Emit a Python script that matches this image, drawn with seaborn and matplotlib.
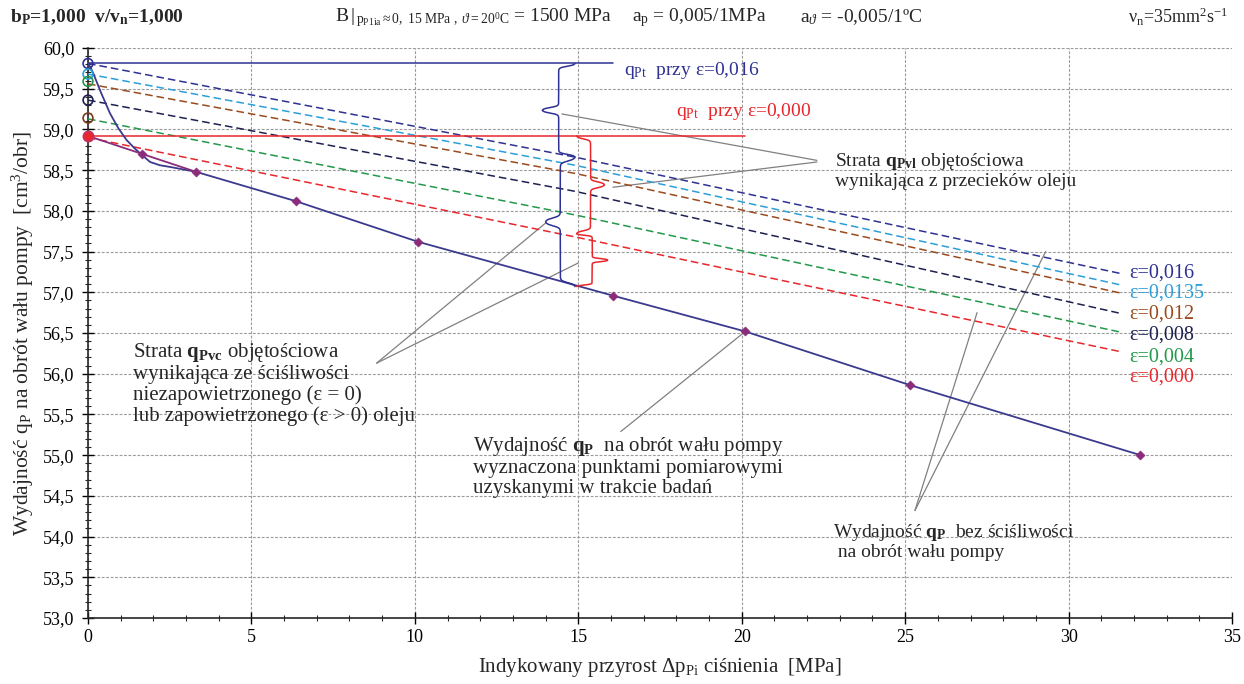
import numpy as np
import pandas as pd
import matplotlib
matplotlib.use("Agg")
import matplotlib.pyplot as plt
import seaborn as sns
from matplotlib.ticker import MultipleLocator, FuncFormatter

# ---------------- data ----------------
eps_labels = ['ε=0,016', 'ε=0,0135', 'ε=0,012', 'ε=0,008', 'ε=0,004', 'ε=0,000']
eps_colors = ['#2E3192', '#2A9FDA', '#9A4A1E', '#1D2050', '#22994A', '#E8262B']
eps_x = [0.0, 14.9, 31.6]
eps_016 = [59.81, 58.66, 57.23]
eps_0135 = [59.68, 58.56, 57.09]
eps_012 = [59.56, 58.46, 56.99]
eps_008 = [59.36, 58.24, 56.74]
eps_004 = [59.13, 57.95, 56.51]
eps_000 = [58.90, 57.68, 56.27]
eps_values = [eps_016, eps_0135, eps_012, eps_008, eps_004, eps_000]

start_circle_y = [59.81, 59.68, 59.59, 59.36, 59.14, 58.92]
start_circle_colors = ['#2E3192', '#2A9FDA', '#22994A', '#1D2050', '#7A3A1E', '#E8262B']

meas_x = [1.65, 3.3, 6.35, 10.1, 16.05, 20.1, 25.15, 32.2]
meas_y = [58.70, 58.48, 58.12, 57.62, 56.96, 56.52, 55.86, 55.00]

purple_x = [0.0, 1.65, 3.3]
purple_y = [58.92, 58.70, 58.48]

curve_x = [0.0, 0.08, 0.16, 0.4, 0.67, 0.92, 1.18, 1.42, 1.64, 1.9, 2.2, 2.5, 2.9, 3.3]
curve_y = [59.81, 59.76, 59.69, 59.45, 59.20, 59.02, 58.87, 58.77, 58.69, 58.60, 58.56, 58.54, 58.51, 58.48]

qpt016_x = [0.0, 16.05]
qpt016_y = [59.81, 59.81]
qpt000_x = [0.0, 20.1]
qpt000_y = [58.92, 58.92]

x_ticks = [0, 5, 10, 15, 20, 25, 30, 35]

# ---------------- style ----------------
sns.set_style("ticks")
plt.rcParams['font.family'] = ['Liberation Serif', 'DejaVu Serif']
plt.rcParams['mathtext.fontset'] = 'custom'
plt.rcParams['mathtext.rm'] = 'Liberation Serif'
plt.rcParams['mathtext.it'] = 'Liberation Serif:italic'
plt.rcParams['mathtext.bf'] = 'Liberation Serif:bold'

NAVY = '#2E3192'
RED = '#E8262B'
PURPLE = '#8B2C7A'
GRAY = '#808080'

fig = plt.figure(figsize=(12.44, 6.84), dpi=100)
ax = fig.add_axes([88/1244, 1-618/684, (1232-88)/1244, (618-48)/684])

# dashed epsilon lines
rows = []
for lab, vals in zip(eps_labels, eps_values):
    for xv, yv in zip(eps_x, vals):
        rows.append({'x': xv, 'y': yv, 'eps': lab})
df_eps = pd.DataFrame(rows)
sns.lineplot(data=df_eps, x='x', y='y', hue='eps', style='eps',
             palette=dict(zip(eps_labels, eps_colors)),
             dashes={l: (5, 2.6) for l in eps_labels},
             hue_order=eps_labels, legend=False, estimator=None, sort=False,
             lw=1.1, ax=ax, zorder=3)

# horizontal q_Pt lines
sns.lineplot(x=qpt016_x, y=qpt016_y, color=NAVY, lw=1.1, ax=ax, estimator=None, zorder=3)
sns.lineplot(x=qpt000_x, y=qpt000_y, color=RED, lw=1.1, ax=ax, estimator=None, zorder=3)

# measured line (navy curve + straight through points)
full_x = curve_x + meas_x[2:]
full_y = curve_y + meas_y[2:]
ax.plot(full_x, full_y, color='#3B3A8E', lw=1.3, zorder=4)
ax.plot(purple_x, purple_y, color=PURPLE, lw=1.3, zorder=4)

# start circles
ax.scatter([0]*len(start_circle_y[:-1]), start_circle_y[:-1], s=50, facecolors='none',
           edgecolors=start_circle_colors[:-1], linewidths=1.2, zorder=6, clip_on=False)
ax.scatter([0], [start_circle_y[-1]], s=55, facecolors='#E8262B', edgecolors='#C0306A',
           linewidths=1.2, zorder=6, clip_on=False)

# measurement diamonds
df_m = pd.DataFrame({'x': meas_x, 'y': meas_y})
sns.scatterplot(data=df_m, x='x', y='y', marker='D', s=22, color=PURPLE,
                edgecolor=PURPLE, ax=ax, zorder=7)


# curly braces
def brace(ax, x_end, y_top, y_bot, width, color, n=300, k=60):
    t = np.linspace(0, 1, n)
    s = lambda tt, c: 1/(1+np.exp(-k*(tt-c)))
    g = 0.5*s(t, 0.06) + 0.5*s(t, 0.94)
    f = (g-g[0])/(g[-1]-g[0])
    ym = (y_top+y_bot)/2
    y1 = y_top + (ym-y_top)*t
    y2 = ym + (y_bot-ym)*t
    x1 = x_end + width*f
    x2 = x_end + width*f[::-1]
    ax.plot(np.r_[x1, x2], np.r_[y1, y2], color=color, lw=1.1, zorder=5)

braces = [(14.9, 59.81, 58.66, -1.0, NAVY), (14.9, 58.66, 57.07, -0.9, NAVY),
          (14.95, 58.92, 57.72, 0.85, RED), (14.95, 57.72, 57.07, 0.95, RED)]
for b in braces:
    brace(ax, *b)

# leader lines
leaders = [((22.3, 58.62), (14.5, 59.19)), ((22.3, 58.60), (16.06, 58.29)),
           ((8.83, 56.13), (14.0, 57.85)), ((8.83, 56.13), (15.0, 57.36)),
           ((16.3, 55.29), (20.05, 56.50)),
           ((25.3, 54.32), (27.2, 56.75)), ((25.3, 54.32), (29.3, 57.50))]
for (a, b) in leaders:
    ax.plot([a[0], b[0]], [a[1], b[1]], color=GRAY, lw=0.9, zorder=2)

# axes formatting
ax.set_xlim(0, 35)
ax.set_ylim(53, 60)
ax.set_xticks(x_ticks)
ax.xaxis.set_minor_locator(MultipleLocator(1))
ax.yaxis.set_major_locator(MultipleLocator(0.5))
ax.yaxis.set_minor_locator(MultipleLocator(0.1))
ax.yaxis.set_major_formatter(FuncFormatter(lambda v, p: f"{v:.1f}".replace('.', ',')))
ax.tick_params(axis='both', which='major', direction='inout', length=8, width=1.0,
               labelsize=13, colors='black')
ax.tick_params(axis='x', which='major', pad=4)
ax.tick_params(axis='y', which='major', pad=6)
ax.tick_params(axis='both', which='minor', direction='inout', length=5, width=0.8)
ax.grid(True, which='major', color='#9A9A9A', ls=(0, (2.5, 1.5)), lw=0.8)
for sp in ['top', 'right']:
    ax.spines[sp].set_visible(False)
ax.spines['left'].set_linewidth(1.2)
ax.spines['bottom'].set_linewidth(1.2)
ax.set_xlabel(r"Indykowany przyrost $\Delta$p$_{\mathrm{Pi}}$ ciśnienia  [MPa]", fontsize=15, labelpad=7)
ax.set_ylabel(r"Wydajność q$_{\mathrm{P}}$ na obrót wału pompy  [cm$^{3}$/obr]", fontsize=15.5, labelpad=5)

# epsilon labels
eps_label_y = [57.24, 56.99, 56.73, 56.47, 56.20, 55.96]
for lab, c, yv in zip(eps_labels, eps_colors, eps_label_y):
    ax.text(31.87, yv, lab, color=c, fontsize=14.5, va='center', ha='left')

ax.text(16.4, 59.72, r"q$_{\mathrm{Pt}}$  przy ε=0,016", color=NAVY, fontsize=14, va='center')
ax.text(18.0, 59.22, r"q$_{\mathrm{Pt}}$  przy ε=0,000", color=RED, fontsize=14, va='center')

ax.text(22.85, 58.50, "Strata $\\mathbf{q}_{\\mathbf{Pvl}}$ objętościowa\nwynikająca z przecieków oleju",
        fontsize=14, va='center', ha='left', linespacing=1.08)
ax.text(1.38, 55.88, "Strata $\\mathbf{q}_{\\mathbf{Pvc}}$ objętościowa\nwynikająca ze ściśliwości\n"
        "niezapowietrzonego (ε = 0)\nlub zapowietrzonego (ε > 0) oleju",
        fontsize=15, va='center', ha='left', linespacing=1.06)
ax.text(11.78, 54.86, "Wydajność $\\mathbf{q}_{\\mathbf{P}}$  na obrót wału pompy\nwyznaczona punktami pomiarowymi\n"
        "uzyskanymi w trakcie badań",
        fontsize=15, va='center', ha='left', linespacing=1.09)
ax.text(22.8, 53.94, "Wydajność $\\mathbf{q}_{\\mathbf{P}}$  bez ściśliwości\n na obrót wału pompy",
        fontsize=14, va='center', ha='left', linespacing=1.08)

# header
fig.text(10/1244, 0.975, r"b$_{\mathbf{P}}$=1,000  v/v$_{\mathbf{n}}$=1,000", fontsize=14,
         fontweight='bold', va='center', ha='left')
fig.text(335/1244, 0.975,
         r"B$\,|_{\,\mathrm{p}_{\mathrm{P1ia}}\approx \mathrm{0,\ 15\ MPa\ ,}\ \vartheta\mathrm{=20^{0}C}}$ = 1500 MPa",
         fontsize=14, va='center', ha='left')
fig.text(632/1244, 0.975, r"a$_{\mathrm{p}}$ = 0,005/1MPa", fontsize=14, va='center', ha='left')
fig.text(800/1244, 0.975, r"a$_{\vartheta}$ = -0,005/1ºC", fontsize=14, va='center', ha='left')
fig.text(1228/1244, 0.975, r"ν$_{\mathrm{n}}$=35mm$^{2}$s$^{\mathrm{-1}}$", fontsize=13, va='center', ha='right')

fig.savefig("out.png", dpi=100)
